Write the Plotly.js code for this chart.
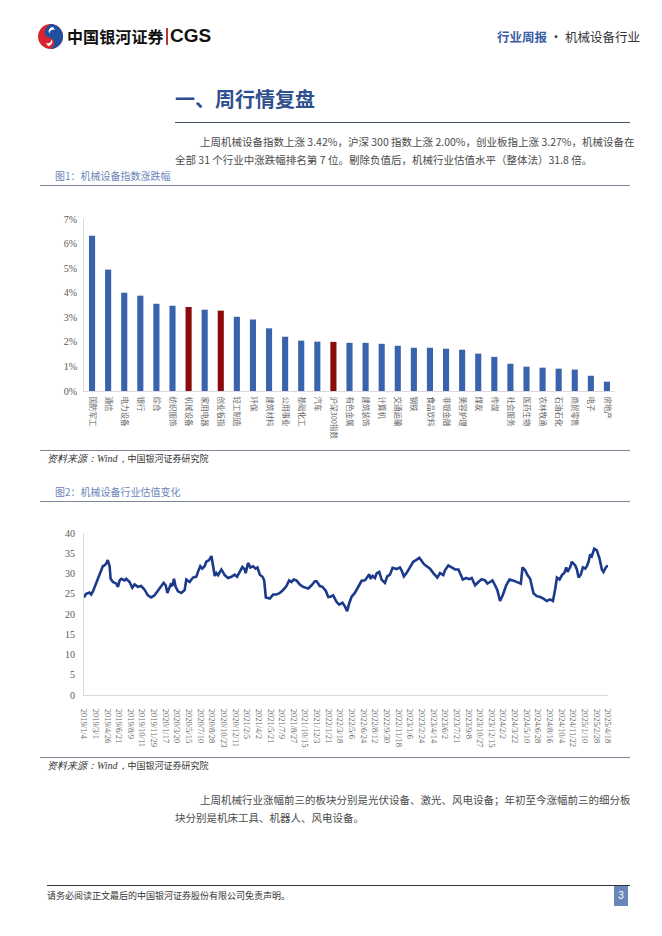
<!DOCTYPE html>
<html><head><meta charset="utf-8">
<script src="https://cdn.plot.ly/plotly-3.0.1.min.js"></script>
<style>
html,body{margin:0;padding:0;}
body{width:662px;height:936px;background:#fff;position:relative;overflow:hidden;font-family:"Noto Sans CJK SC",sans-serif;color:#404040;}
.abs{position:absolute;white-space:nowrap;}
.rule{position:absolute;height:0;border-top:1px solid #7d8796;}
.para{position:absolute;font-size:10.5px;line-height:18px;color:#4a4a4a;white-space:nowrap;}
.just{text-align:justify;text-align-last:justify;}
.figt{position:absolute;font-size:10px;line-height:14px;color:#6a86b8;white-space:nowrap;}
.src{position:absolute;font-size:9px;line-height:12px;color:#333;white-space:nowrap;}
.src i{font-family:"Liberation Serif",serif;font-size:10px;}
</style></head><body>

<!-- header logo -->
<svg class="abs" style="left:37px;top:23px" width="27" height="27" viewBox="0 0 27 27">
  <circle cx="13.5" cy="13.5" r="12.5" fill="#d8262f"/>
  <path d="M13.5 1 A12.5 12.5 0 0 1 26 13.5 A12.5 12.5 0 0 1 13.5 26 C19 22 18 16 12 14.5 C6 13 6 6 13.5 1 Z" fill="#1f4f9f"/>
  <path d="M9 20 C12 21 15 19 14 16.5 C16.5 18 15.5 22.5 11 23 Z" fill="#fff"/>
  <path d="M18 7 C15 6 12 8 13 10.5 C10.5 9 11.5 4.5 16 4 Z" fill="#fff"/>
</svg>
<div class="abs" style="left:67px;top:26px;font-size:16px;line-height:20px;font-weight:700;color:#111;letter-spacing:0.1px">中国银河证券</div>
<div class="abs" style="left:166px;top:28px;width:1.5px;height:17px;background:#b8333a"></div>
<div class="abs" style="left:170px;top:25px;font-family:'Liberation Sans',Arial,sans-serif;font-size:19px;line-height:22px;font-weight:700;color:#111">CGS</div>
<div class="abs" style="left:497px;top:29px;font-size:12.5px;line-height:16px;color:#333"><span style="color:#3b5ea8;font-weight:700">行业周报</span> · 机械设备行业</div>

<!-- section title -->
<div class="abs" style="left:175px;top:86px;font-size:20px;line-height:26px;font-weight:700;color:#2f4f8f">一、周行情复盘</div>
<div class="rule" style="left:175px;top:122px;width:455px;border-top:1.3px solid #44566f"></div>

<div class="para just" style="left:200px;top:133px;width:430px">上周机械设备指数上涨 3.42%，沪深 300 指数上涨 2.00%，创业板指上涨 3.27%，机械设备在</div>
<div class="para" style="left:175px;top:151px">全部 31 个行业中涨跌幅排名第 7 位。剔除负值后，机械行业估值水平（整体法）31.8 倍。</div>

<div class="figt" style="left:55px;top:169px">图1：机械设备指数涨跌幅</div>
<div class="rule" style="left:40px;top:185px;width:590px"></div>
<div id="bar" class="abs" style="left:0;top:190px;width:662px;height:260px"></div>
<div class="rule" style="left:40px;top:450px;width:590px"></div>
<div class="src" style="left:47px;top:453px"><i>资料来源：Wind，</i>中国银河证券研究院</div>

<div class="figt" style="left:55px;top:485px">图2：机械设备行业估值变化</div>
<div class="rule" style="left:40px;top:501px;width:590px"></div>
<div id="line" class="abs" style="left:0;top:505px;width:662px;height:250px"></div>
<div class="rule" style="left:40px;top:757px;width:590px"></div>
<div class="src" style="left:47px;top:760px"><i>资料来源：Wind，</i>中国银河证券研究院</div>

<div class="para just" style="left:200px;top:791px;width:430px">上周机械行业涨幅前三的板块分别是光伏设备、激光、风电设备；年初至今涨幅前三的细分板</div>
<div class="para" style="left:175px;top:809px">块分别是机床工具、机器人、风电设备。</div>

<div class="rule" style="left:47px;top:885px;width:583px;border-top:1px solid #333"></div>
<div class="src" style="left:47px;top:890px;color:#333">请务必阅读正文最后的中国银河证券股份有限公司免责声明。</div>
<div class="abs" style="left:614px;top:886px;width:14px;height:20px;background:#6a86b8;color:#fff;font-size:10px;line-height:20px;text-align:center;font-family:'Liberation Sans',sans-serif">3</div>

<script>
// ---- Chart 1 data: weekly change (%) ----
const barCats = ['国防军工','通信','电力设备','银行','综合','纺织服饰','机械设备','家用电器','创业板指','轻工制造','环保','建筑材料','公用事业','基础化工','汽车','沪深300指数','有色金属','建筑装饰','计算机','交通运输','钢铁','食品饮料','非银金融','美容护理','煤炭','传媒','社会服务','医药生物','农林牧渔','石油石化','商贸零售','电子','房地产'];
const barVals = [6.32,4.94,4.00,3.88,3.55,3.47,3.42,3.31,3.27,3.02,2.91,2.55,2.21,2.05,2.01,2.00,1.96,1.96,1.92,1.84,1.76,1.76,1.72,1.68,1.52,1.39,1.11,0.99,0.95,0.91,0.87,0.62,0.38];
const highlightCats = ['机械设备','创业板指','沪深300指数'];

// ---- Chart 2 data: industry PE (category index of weekly series, value) ----
const peIdx = [0,1.3,3.3,4.3,5.3,7.3,8.9,10.3,11.3,12.3,13.3,14.3,15.4,16.0,17.4,19.4,20.4,21.4,22.4,24.4,25.4,27.4,29.0,30.4,32.4,34.4,36.4,38.4,40.4,42.4,44.4,46.5,47.9,49.1,50.1,51.1,52.1,53.1,54.1,55.1,56.5,58.5,60.5,61.5,63.5,65.5,67.5,68.5,69.9,71.1,72.5,73.5,75.2,76.6,77.6,78.6,79.6,80.6,82.6,84.6,86.6,88.6,90.6,92.0,93.6,95.2,96.6,97.2,98.6,100.0,101.6,103.2,104.3,105.7,107.3,108.3,109.3,111.7,113.7,115.7,117.7,119.7,121.7,123.3,124.7,126.1,127.7,129.7,131.7,134.8,136.8,138.8,139.8,141.8,143.4,145.4,146.8,147.8,149.8,151.8,153.4,155.4,156.8,158.2,159.4,160.8,162.8,164.8,166.9,168.9,169.9,171.5,172.3,173.5,174.9,175.9,177.5,178.9,180.9,182.3,183.9,185.5,187.9,189.9,190.9,192.3,193.9,195.9,197.9,199.6,201.6,203.0,204.4,206.0,208.0,210.0,211.6,212.4,214.0,216.0,217.0,219.0,221.0,223.1,225.1,226.5,227.7,229.7,231.7,233.1,235.1,237.1,239.1,241.1,242.5,244.1,245.5,247.1,248.5,250.1,251.7,253.8,255.8,257.8,260.2,262.6,263.6,265.2,266.6,268.2,269.2,270.2,272.2,274.2,276.2,278.2,280.2,281.9,283.3,284.3,285.9,287.3,288.7,289.9,290.7,292.3,293.3,295.3,296.3,297.3,298.7,299.9,301.3,302.3,303.3,304.3,305.3,306.7,308.3,309.9,311.3,312.3,313.7,314.9];
const peVals = [24.1,25.0,25.3,24.8,25.5,27.5,29.2,30.6,31.8,32.0,32.4,33.3,31.8,28.7,27.9,27.5,26.7,28.3,28.7,28.3,28.7,27.9,26.5,27.3,26.7,26.9,26.0,24.6,24.1,24.6,25.6,26.9,27.7,27.1,25.2,26.3,27.3,26.9,28.7,26.7,25.6,25.2,25.9,28.5,27.9,29.0,29.2,30.4,31.8,31.2,31.8,32.9,33.3,34.3,31.5,29.4,30.1,29.6,31.0,29.6,28.9,29.2,29.7,29.2,30.4,31.6,31.0,30.1,32.6,31.5,31.8,31.2,31.5,29.7,29.2,28.3,24.1,23.8,24.8,24.8,25.2,25.9,26.9,28.3,27.9,28.5,28.3,27.3,26.7,26.3,27.1,28.1,28.1,26.9,26.7,25.7,24.2,24.2,24.6,23.0,22.3,22.8,21.9,20.7,22.6,24.2,25.2,26.5,28.2,28.3,28.9,29.8,28.7,29.4,28.9,30.0,30.4,28.5,27.7,29.3,29.7,31.4,31.1,31.5,30.8,29.3,30.1,31.5,32.9,33.3,33.9,33.1,32.3,31.8,31.2,30.1,29.3,29.0,30.1,29.6,30.8,32.0,31.5,31.0,31.0,29.6,28.5,28.9,28.6,28.9,27.1,27.9,28.6,28.3,27.5,27.9,28.3,27.1,25.9,23.2,24.6,27.1,28.5,28.3,27.9,27.5,31.5,30.8,29.6,28.7,26.9,25.1,24.4,24.2,23.8,23.2,23.6,23.2,26.3,29.0,28.5,29.6,30.1,31.5,30.4,31.6,32.9,32.0,31.0,29.0,29.8,31.5,31.2,31.8,32.9,34.7,34.3,36.1,35.7,33.7,31.0,30.4,31.5,32.0];
const dateLabels = ['2019/1/4','2019/3/1','2019/4/26','2019/6/21','2019/8/9','2019/10/11','2019/11/29','2020/1/17','2020/3/20','2020/5/15','2020/7/10','2020/8/28','2020/10/23','2020/12/11','2021/2/5','2021/4/2','2021/5/21','2021/7/9','2021/8/27','2021/10/15','2021/12/3','2022/1/21','2022/3/18','2022/5/6','2022/6/24','2022/8/12','2022/9/30','2022/11/18','2023/1/6','2023/2/24','2023/4/14','2023/6/2','2023/7/21','2023/9/8','2023/10/27','2023/12/15','2024/2/2','2024/3/22','2024/5/10','2024/6/28','2024/8/16','2024/10/4','2024/11/22','2025/1/10','2025/2/28','2025/4/18'];
const labelStep = 7;

const cfg = {staticPlot:true, displayModeBar:false};
const grey = '#595959';

Plotly.newPlot('bar', [{
  type:'bar', x:barCats, y:barVals,
  marker:{color: barCats.map(c => highlightCats.includes(c) ? '#8b0a0a' : '#3a63ad')},
  hoverinfo:'none'
}], {
  width:662, height:260,
  margin:{l:84, r:47, t:29, b:59},
  paper_bgcolor:'rgba(0,0,0,0)', plot_bgcolor:'rgba(0,0,0,0)',
  bargap:0.62, showlegend:false,
  xaxis:{type:'category', tickangle:90, showline:true, linecolor:'#d9d9d9', linewidth:1,
         ticks:'', ticklabelstandoff:3, showgrid:false, zeroline:false, automargin:false,
         tickfont:{family:'Noto Sans CJK SC', size:7.5, color:'#666'}},
  yaxis:{range:[0,7], dtick:1, tick0:0, ticksuffix:'%', showline:true, linecolor:'#d9d9d9', linewidth:1,
         ticks:'', ticklabelstandoff:4, showgrid:false, zeroline:false, automargin:false,
         tickfont:{family:'Liberation Serif', size:10, color:grey}}
}, cfg);

Plotly.newPlot('line', [{
  type:'scatter', mode:'lines', x:peIdx, y:peVals,
  line:{color:'#1c3a8c', width:2.6, shape:'linear'},
  hoverinfo:'none'
}], {
  width:662, height:250,
  margin:{l:84, r:54, t:28, b:60},
  paper_bgcolor:'rgba(0,0,0,0)', plot_bgcolor:'rgba(0,0,0,0)',
  showlegend:false,
  xaxis:{range:[0, (dateLabels.length-1)*labelStep], tickmode:'array',
         tickvals:dateLabels.map((d,i)=>i*labelStep), ticktext:dateLabels,
         tickangle:90, showline:true, linecolor:'#d9d9d9', linewidth:1,
         ticks:'', ticklabelstandoff:11, showgrid:false, zeroline:false, automargin:false,
         tickfont:{family:'Liberation Serif', size:8.5, color:'#666'}},
  yaxis:{range:[0,40], dtick:5, tick0:0, showline:true, linecolor:'#d9d9d9', linewidth:1,
         ticks:'', ticklabelstandoff:6, showgrid:false, zeroline:false, automargin:false,
         tickfont:{family:'Liberation Serif', size:10, color:grey}}
}, cfg);
</script>
</body></html>
